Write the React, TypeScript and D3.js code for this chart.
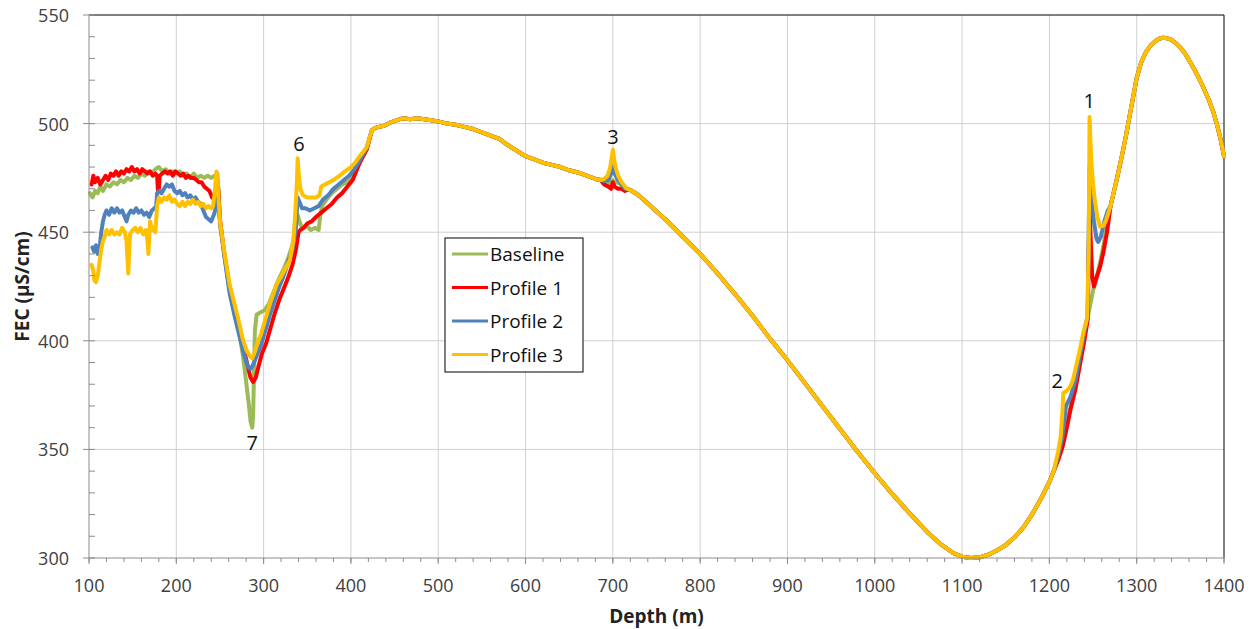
import React from "react";
import * as d3 from "d3";

type Pt = [number, number];

// ---- data (depth m, FEC µS/cm) ----
const seriesNames = ["Baseline", "Profile 1", "Profile 2", "Profile 3"];
const seriesColors = ["#9BBB59", "#FF0000", "#4F81BD", "#FFC000"];
const xTicks = [100, 200, 300, 400, 500, 600, 700, 800, 900, 1000, 1100, 1200, 1300, 1400];
const yTicks = [300, 350, 400, 450, 500, 550];

const baselineLeft: Pt[] = [[101,468],[104,466],[107,469],[110,468],[113,471],[116,469],[120,472],[124,471],[128,473],[132,472],[136,474],[140,473],[144,475],[148,474],[152,476],[156,475],[160,477],[164,476],[168,478],[172,477],[176,479],[180,480],[184,478],[188,479],[192,477],[196,478],[200,477],[204,478],[208,476],[212,477],[216,475],[220,477],[224,475],[228,476],[232,475],[236,476],[240,475],[244,476],[247,477],[249,466],[250,453],[255,440],[261,424],[267,412],[273,402],[277,391],[280,381],[283,371],[285,363],[287,360],[288,366],[289,385],[290,405],[292,412],[296,413],[301,414],[306,417],[312,423],[318,429],[323,433],[328,438],[333,444],[337,452],[339,458],[341,455],[344,452],[349,453],[354,451],[359,452],[363,451],[365,458],[367,462],[372,465],[378,468],[384,470],[390,472],[396,473],[402,475],[410,482],[418,488],[424,497]];
const profile1Left: Pt[] = [[103,472],[105,476],[107,473],[110,475],[113,472],[116,474],[119,476],[122,474],[125,477],[128,476],[131,478],[134,476],[137,478],[140,477],[143,479],[146,478],[149,480],[152,478],[155,479],[158,477],[161,479],[164,478],[167,477],[170,478],[173,476],[176,477],[178,476],[179,469],[180,470],[181,476],[184,477],[187,478],[190,477],[193,478],[196,476],[199,478],[202,477],[205,476],[208,477],[211,475],[214,476],[217,475],[220,475],[223,474],[226,473],[229,473],[232,471],[235,470],[238,469],[241,466],[244,465],[246,467],[248,470],[250,456],[255,440],[261,424],[267,413],[273,404],[278,395],[282,388],[285,383],[288,381],[291,383],[294,388],[298,394],[303,399],[308,406],[313,413],[318,419],[323,424],[328,429],[333,435],[337,442],[340,450],[342,451],[346,452],[350,454],[355,455],[360,457],[366,459],[372,461],[378,463],[384,466],[390,468],[396,471],[402,474],[410,482],[418,488],[424,497]];
const profile2Left: Pt[] = [[104,443],[106,441],[108,444],[110,440],[112,442],[114,450],[116,455],[118,458],[120,460],[123,458],[126,461],[129,459],[132,461],[135,459],[138,460],[141,457],[143,455],[145,458],[148,460],[151,459],[154,461],[157,459],[160,460],[163,458],[166,459],[169,457],[172,460],[175,461],[177,462],[178,468],[180,469],[183,468],[186,470],[189,472],[192,471],[195,472],[198,469],[201,468],[204,469],[207,467],[210,468],[213,466],[216,467],[219,465],[222,466],[225,464],[228,463],[231,460],[234,457],[237,456],[240,455],[243,458],[246,462],[248,466],[250,455],[255,439],[261,422],[267,411],[273,401],[278,393],[282,388],[285,387],[288,389],[292,393],[297,398],[303,406],[308,413],[313,419],[318,425],[323,430],[328,436],[333,442],[337,452],[339,466],[341,464],[344,461],[348,461],[353,460],[358,461],[363,462],[368,465],[374,467],[380,470],[386,472],[392,474],[398,476],[404,479],[410,483],[418,489],[424,497]];
const profile3Left: Pt[] = [[103,435],[105,432],[106,428],[108,427],[110,430],[112,436],[114,442],[116,446],[118,448],[120,451],[123,449],[126,451],[129,449],[132,450],[135,449],[138,452],[141,450],[143,446],[144,438],[145,431],[146,440],[147,449],[150,451],[153,452],[156,450],[159,452],[162,449],[165,451],[167,446],[168,440],[169,448],[170,455],[172,451],[174,452],[176,450],[178,462],[180,466],[183,464],[186,466],[189,465],[192,467],[195,464],[198,465],[201,463],[204,462],[207,464],[210,462],[213,464],[216,463],[219,465],[222,463],[225,464],[228,462],[231,463],[234,461],[237,462],[240,461],[242,462],[244,468],[246,478],[248,468],[250,455],[255,441],[261,426],[266,418],[271,410],[276,401],[280,396],[284,393],[287,392],[290,395],[293,399],[297,403],[302,410],[308,418],[315,426],[322,431],[330,437],[334,446],[336,457],[338,472],[339,484],[340,478],[342,470],[345,467],[350,466],[355,466],[360,466],[364,467],[366,471],[370,472],[375,473],[380,474],[387,476],[393,478],[400,480],[405,482],[410,485],[418,489],[424,497]];

const trunkMid: Pt[] = [[428,498],[432,498.5],[438,499],[445,500.5],[452,501.5],[460,502.5],[468,502],[476,502.5],[484,502],[492,501.5],[500,501],[510,500],[520,499.5],[530,498.5],[540,497.5],[550,496],[560,494.5],[570,493],[580,490],[590,487.5],[600,485],[610,483.5],[620,482],[630,481],[640,480],[650,478.5],[660,477.5],[670,476],[680,474.5],[686,474]];

const baselineSpike3: Pt[] = [[690,473],[695,472.5],[700,474],[703,473],[708,472.5],[714,470]];
const profile1Spike3: Pt[] = [[690,472],[695,471],[698,470],[700,473],[702,471],[706,470],[710,470],[714,469]];
const profile2Spike3: Pt[] = [[690,473.5],[695,474],[698,477],[700,481],[702,477],[706,474],[710,472],[714,470]];
const profile3Spike3: Pt[] = [[690,474.5],[694,476],[697,480],[699,485],[700,488],[701,485],[703,480],[706,476],[710,473],[714,471]];

const trunkDescent: Pt[] = [[716,470],[722,469],[728,467.5],[735,465],[742,462.5],[750,459.5],[760,456],[780,448],[800,440],[820,431],[840,421.5],[860,411.5],[880,401],[900,391],[920,380.5],[940,370],[960,359.5],[980,349],[1000,339],[1020,329.5],[1040,320.5],[1060,312],[1075,306.5],[1090,302.2],[1100,300.6],[1110,300],[1120,300.3],[1130,301.5],[1140,303.5],[1150,306],[1160,309.5],[1170,314],[1180,320],[1190,327],[1200,335],[1205,340]];

const baselineSpike1: Pt[] = [[1210,346],[1215,353],[1220,362],[1225,371],[1230,381],[1235,392],[1240,403],[1245,413],[1250,423],[1255,431],[1258,436],[1262,444],[1266,453],[1270,462]];
const profile1Spike1: Pt[] = [[1210,345],[1215,351],[1220,360],[1224,368],[1230,378],[1235,389],[1240,400],[1244,410],[1245,440],[1246,465],[1247,450],[1249,430],[1251,425],[1254,429],[1258,434],[1262,441],[1266,450],[1270,462]];
const profile2Spike1: Pt[] = [[1210,347],[1215,356],[1219,370],[1224,374],[1230,382],[1235,393],[1240,404],[1244,412],[1245,450],[1246,480],[1248,466],[1251,455],[1254,447],[1256,445.5],[1259,448],[1263,455],[1267,460],[1270,462]];
const profile3Spike1: Pt[] = [[1210,349],[1213,356],[1215,368],[1216,376],[1220,377],[1224,379],[1227,382],[1231,389],[1235,396],[1239,404],[1243,410],[1245,440],[1246,503],[1247,492],[1248,483],[1250,472],[1252,465],[1255,457],[1258,452.5],[1262,453],[1265,455.6],[1270,462]];

const trunkEnd: Pt[] = [[1277,474],[1283,485],[1288,495],[1294,508],[1300,521],[1305,528],[1310,532.5],[1315,535.5],[1320,537.5],[1325,539],[1330,539.5],[1335,539.3],[1340,538.5],[1345,537],[1350,535],[1355,532.5],[1361,528.5],[1368,523.5],[1376,517],[1383,510.5],[1388,505],[1392,499.5],[1396,493],[1400,485]];

const annotations = [
  { text: "7", depth: 287, value: 353 },
  { text: "6", depth: 340.5, value: 491 },
  { text: "3", depth: 700, value: 494 },
  { text: "1", depth: 1245.5, value: 510.5 },
  { text: "2", depth: 1209, value: 381.5 },
];

const seriesData: Pt[][] = [
  [...baselineLeft, ...trunkMid, ...baselineSpike3, ...trunkDescent, ...baselineSpike1, ...trunkEnd],
  [...profile1Left, ...trunkMid, ...profile1Spike3, ...trunkDescent, ...profile1Spike1, ...trunkEnd],
  [...profile2Left, ...trunkMid, ...profile2Spike3, ...trunkDescent, ...profile2Spike1, ...trunkEnd],
  [...profile3Left, ...trunkMid, ...profile3Spike3, ...trunkDescent, ...profile3Spike1, ...trunkEnd],
];

const W = 1253, H = 629;
const L = 89, R = 1224, T = 15, B = 558;
const FONT = "'Open Sans', 'Noto Sans', sans-serif";

export default function App() {
  const x = d3.scaleLinear().domain([100, 1400]).range([L, R]);
  const y = d3.scaleLinear().domain([300, 550]).range([B, T]);
  const line = d3.line<Pt>().x((d) => x(d[0])).y((d) => y(d[1]));
  const xMinor = d3.range(100, 1401, 20);
  const yMinor = d3.range(300, 551, 10);
  const axisGray = "#8c8c8c";
  const grid = "#d0d0d0";

  return (
    <svg width={W} height={H} style={{ position: "absolute", left: 0, top: 0, background: "#fff" }} fontFamily={FONT}>
      <rect x={0} y={0} width={W} height={H} fill="#fff" />
      {/* grid */}
      {xTicks.slice(1, -1).map((t) => (
        <line key={"gx" + t} x1={x(t)} x2={x(t)} y1={T} y2={B} stroke={grid} strokeWidth={1} />
      ))}
      {yTicks.slice(1, -1).map((t) => (
        <line key={"gy" + t} x1={L} x2={R} y1={y(t)} y2={y(t)} stroke={grid} strokeWidth={1} />
      ))}
      {/* plot border top/right */}
      <line x1={L} x2={R} y1={T} y2={T} stroke="#000" strokeWidth={1} />
      <line x1={R} x2={R} y1={T} y2={B} stroke="#000" strokeWidth={1} />
      {/* series */}
      {seriesData.map((d, i) => (
        <path key={seriesNames[i]} d={line(d) || ""} fill="none" stroke={seriesColors[i]} strokeWidth={4} strokeLinejoin="round" strokeLinecap="round" />
      ))}
      {/* axes */}
      <line x1={L} x2={L} y1={T} y2={B} stroke={axisGray} strokeWidth={1} />
      <line x1={L} x2={R} y1={B} y2={B} stroke={axisGray} strokeWidth={1} />
      {yMinor.map((t) => (
        <line key={"ym" + t} x1={L} x2={L + 6} y1={y(t)} y2={y(t)} stroke={axisGray} strokeWidth={1} />
      ))}
      {yTicks.map((t) => (
        <line key={"yt" + t} x1={L - 6} x2={L} y1={y(t)} y2={y(t)} stroke={axisGray} strokeWidth={1} />
      ))}
      {xMinor.map((t) => (
        <line key={"xm" + t} x1={x(t)} x2={x(t)} y1={B} y2={B + 4} stroke={axisGray} strokeWidth={1} />
      ))}
      {xTicks.map((t) => (
        <line key={"xt" + t} x1={x(t)} x2={x(t)} y1={B} y2={B + 6} stroke={axisGray} strokeWidth={1} />
      ))}
      {/* tick labels */}
      {yTicks.map((t) => (
        <text key={"yl" + t} x={L - 20} y={y(t)} textAnchor="end" dominantBaseline="central" fontSize={18} fill="#404040">
          {t}
        </text>
      ))}
      {xTicks.map((t) => (
        <text key={"xl" + t} x={x(t)} y={B + 27} textAnchor="middle" dominantBaseline="central" fontSize={18} fill="#404040">
          {t}
        </text>
      ))}
      {/* axis titles */}
      <text x={(L + R) / 2} y={616} textAnchor="middle" dominantBaseline="central" fontSize={19} fontWeight="bold" fill="#222">
        Depth (m)
      </text>
      <text transform={`translate(22,${(T + B) / 2}) rotate(-90)`} textAnchor="middle" dominantBaseline="central" fontSize={19} fontWeight="bold" fill="#222">
        FEC (µS/cm)
      </text>
      {/* annotations */}
      {annotations.map((a) => (
        <text key={"an" + a.text} x={x(a.depth)} y={y(a.value)} textAnchor="middle" dominantBaseline="central" fontSize={20} fill="#111">
          {a.text}
        </text>
      ))}
      {/* legend */}
      <rect x={445} y={238} width={138} height={134} fill="#fff" stroke="#000" strokeWidth={1} />
      {seriesNames.map((n, i) => (
        <g key={"lg" + n}>
          <line x1={452} x2={488} y1={254 + i * 33.5} y2={254 + i * 33.5} stroke={seriesColors[i]} strokeWidth={3} />
          <text x={490} y={254 + i * 33.5} dominantBaseline="central" fontSize={19} fill="#111">
            {n}
          </text>
        </g>
      ))}
    </svg>
  );
}
